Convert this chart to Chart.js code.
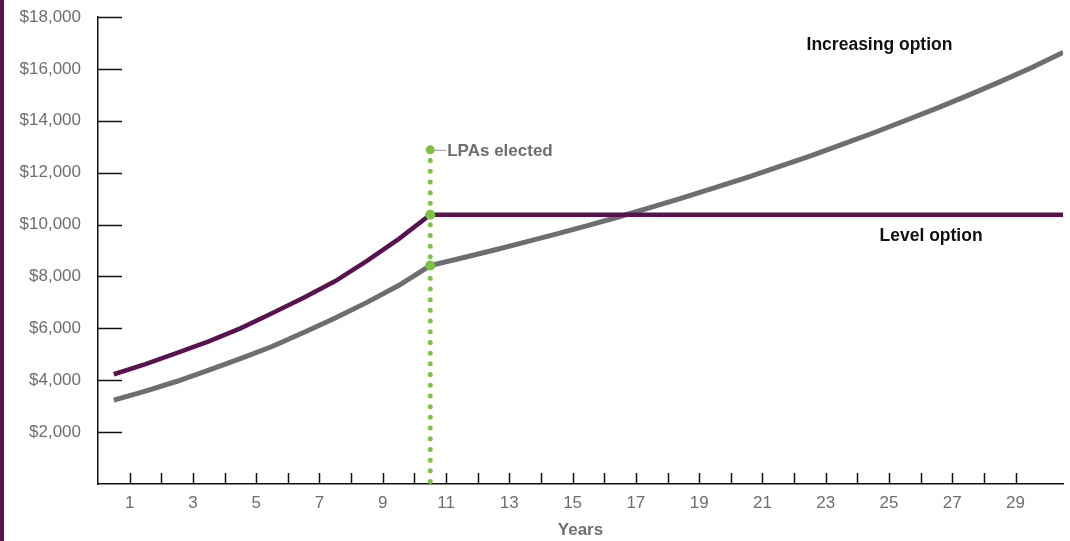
<!DOCTYPE html>
<html>
<head>
<meta charset="utf-8">
<script src="https://cdn.jsdelivr.net/npm/chart.js@4.4.1/dist/chart.umd.min.js"></script>
<style>
    html, body { margin: 0; padding: 0; background: #fff; }
    #wrap { position: relative; width: 1070px; height: 541px; }
    #edge { position: absolute; left: 0; top: 0; width: 4px; height: 541px; background: #5a1150; }
</style>
</head>
<body>
<div id="wrap">
    <div id="edge"></div>
    <canvas id="lpa-chart" width="1070" height="541"></canvas>
</div>
<script>
// years are plotted at mid-year positions
const years = [0.5, 1.5, 2.5, 3.5, 4.5, 5.5, 6.5, 7.5, 8.5, 9.5, 10.5,
    11.5, 12.5, 13.5, 14.5, 15.5, 16.5, 17.5, 18.5, 19.5, 20.5,
    21.5, 22.5, 23.5, 24.5, 25.5, 26.5, 27.5, 28.5, 29.5, 30.5];
const increasingValues = [3230, 3580, 3960, 4390, 4830, 5300, 5840, 6400, 7000, 7650, 8420,
    8710, 9010, 9320, 9640, 9970, 10310, 10670, 11040, 11420, 11810,
    12220, 12640, 13080, 13530, 14000, 14480, 14980, 15500, 16040, 16630];
const levelValues = [4230, 4620, 5050, 5500, 6000, 6580, 7180, 7820, 8600, 9440, 10380,
    10380, 10380, 10380, 10380, 10380, 10380, 10380, 10380, 10380, 10380,
    10380, 10380, 10380, 10380, 10380, 10380, 10380, 10380, 10380, 10380];
const xTickLabels = ['1', '3', '5', '7', '9', '11', '13', '15', '17', '19', '21', '23', '25', '27', '29'];
const yTickLabels = ['$2,000', '$4,000', '$6,000', '$8,000', '$10,000', '$12,000', '$14,000', '$16,000', '$18,000'];
const lpaYear = 10.5;
const lpaLabelValue = 12880;
const seriesNames = ['Increasing option', 'Level option'];

const GRAY = '#6d6e70';
const PURPLE = '#5a1150';
const GREEN = '#7dc243';
const FONT = '"Liberation Sans", Arial, sans-serif';

const lpaIndex = years.indexOf(lpaYear);

// inward tick marks + text labels
const extras = {
    id: 'extras',
    afterDatasetsDraw(chart) {
        const ctx = chart.ctx;
        const xs = chart.scales.x, ys = chart.scales.y;
        const area = chart.chartArea;
        ctx.save();
        ctx.strokeStyle = '#111';
        ctx.lineWidth = 1.5;
        ys.ticks.forEach(t => {
            if (t.value === 0) return;
            const py = Math.round(ys.getPixelForValue(t.value)) + 0.5;
            ctx.beginPath();
            ctx.moveTo(area.left, py);
            ctx.lineTo(area.left + 24, py);
            ctx.stroke();
        });
        xs.ticks.forEach(t => {
            if (t.value === 0) return;
            const px = Math.round(xs.getPixelForValue(t.value)) + 0.5;
            ctx.beginPath();
            ctx.moveTo(px, area.bottom);
            ctx.lineTo(px, area.bottom - 11);
            ctx.stroke();
        });

        // LPA label
        const lx = xs.getPixelForValue(lpaYear);
        const ly = ys.getPixelForValue(lpaLabelValue);
        ctx.strokeStyle = '#9a9a9a';
        ctx.lineWidth = 1;
        ctx.beginPath();
        ctx.moveTo(lx + 4, ly + 0.5);
        ctx.lineTo(lx + 16, ly + 0.5);
        ctx.stroke();
        ctx.fillStyle = GRAY;
        ctx.font = 'bold 17px ' + FONT;
        ctx.textBaseline = 'middle';
        ctx.textAlign = 'left';
        ctx.fillText('LPAs elected', lx + 17, ly + 1);

        // series names
        ctx.fillStyle = '#111';
        ctx.font = 'bold 17.5px ' + FONT;
        ctx.textAlign = 'center';
        ctx.fillText(seriesNames[0], xs.getPixelForValue(24.7), ys.getPixelForValue(16920));
        ctx.fillText(seriesNames[1], xs.getPixelForValue(26.33), ys.getPixelForValue(9540));
        ctx.restore();
    }
};

const ctx = document.getElementById('lpa-chart').getContext('2d');

new Chart(ctx, {
    type: 'line',
    data: {
        datasets: [{
            label: 'LPAs elected',
            data: [
                { x: lpaYear, y: lpaLabelValue },
                { x: lpaYear, y: levelValues[lpaIndex] },
                { x: lpaYear, y: increasingValues[lpaIndex] },
                { x: lpaYear, y: 0 }
            ],
            borderColor: GREEN,
            borderWidth: 5,
            borderDash: [0, 10.7],
            borderCapStyle: 'round',
            pointRadius: [4.5, 5, 5, 0],
            pointBackgroundColor: GREEN,
            pointBorderWidth: 0
        }, {
            label: seriesNames[1],
            data: years.map((x, i) => ({ x: x, y: levelValues[i] })),
            borderColor: PURPLE,
            borderWidth: 4.5,
            pointRadius: 0,
            tension: 0
        }, {
            label: seriesNames[0],
            data: years.map((x, i) => ({ x: x, y: increasingValues[i] })),
            borderColor: GRAY,
            borderWidth: 5,
            pointRadius: 0,
            tension: 0
        }]
    },
    options: {
        responsive: false,
        devicePixelRatio: 1,
        animation: false,
        layout: { padding: { left: 0, right: 7, top: 17, bottom: 0 } },
        plugins: {
            legend: { display: false },
            tooltip: { enabled: false }
        },
        scales: {
            x: {
                type: 'linear',
                min: 0,
                max: 30.5,
                afterBuildTicks: s => { s.ticks = s.ticks.filter(t => Number.isInteger(t.value)); },
                afterFit: s => { s.height = 57; s.paddingLeft = 0; s.paddingRight = 0; },
                grid: { display: false, drawTicks: false },
                border: { color: '#111', width: 1.5 },
                ticks: {
                    stepSize: 1,
                    autoSkip: false,
                    maxRotation: 0,
                    padding: 9,
                    color: GRAY,
                    font: { family: FONT, size: 17 },
                    callback: v => xTickLabels.includes(String(v)) ? String(v) : ''
                },
                title: {
                    display: true,
                    text: 'Years',
                    color: GRAY,
                    font: { family: FONT, size: 17, weight: 'bold' },
                    padding: { top: 0, bottom: 0 }
                }
            },
            y: {
                min: 0,
                max: 18000,
                afterFit: s => { s.width = 98; s.paddingTop = 0; s.paddingBottom = 0; },
                grid: { display: false, drawTicks: false },
                border: { color: '#111', width: 1.5 },
                ticks: {
                    stepSize: 2000,
                    padding: 17,
                    color: GRAY,
                    font: { family: FONT, size: 17 },
                    callback: v => v === 0 ? '' : yTickLabels[v / 2000 - 1]
                }
            }
        }
    },
    plugins: [extras]
});
</script>
</body>
</html>
